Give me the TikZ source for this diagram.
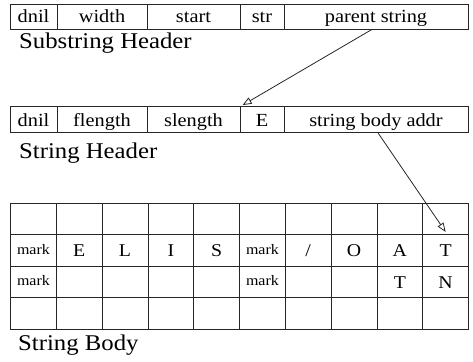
\documentclass[tikz,border=0pt]{standalone}
\usepackage{fontspec}
\setmainfont[FakeStretch=1.1]{Liberation Serif}
\usetikzlibrary{arrows.meta}
\begin{document}
\begin{tikzpicture}[x=1pt,y=-1pt,
  cell/.style={draw=black!85, line width=0.8pt, inner sep=0pt, text height=15pt, text depth=2pt, font=\fontsize{18.5}{18.5}\selectfont},
  gcell/.style={cell, minimum width=45.8pt, minimum height=31.5pt},
  mk/.style={inner sep=0pt, text height=11pt, text depth=3pt, font=\fontsize{14.5}{14.5}\selectfont},
  lt/.style={inner sep=0pt, text height=12.5pt, text depth=0pt, font=\fontsize{18}{18}\selectfont},
  lbl/.style={anchor=west, inner sep=0pt, font=\fontsize{22.5}{22.5}\selectfont},
  ptr/.style={draw=black!85, line width=0.8pt, -{Triangle[open, length=9pt, width=7pt]}}]
\useasboundingbox (0,0) rectangle (473,361);
% Substring header
\node[cell, minimum width=47pt, minimum height=25pt] (s1) at (33.5,16.5) {dnil};
\node[cell, minimum width=90pt, minimum height=25pt] (s2) at (102,16.5) {width};
\node[cell, minimum width=93pt, minimum height=25pt] (s3) at (193.5,16.5) {start};
\node[cell, minimum width=44pt, minimum height=25pt] (s4) at (262,16.5) {str};
\node[cell, minimum width=184pt, minimum height=25pt] (s5) at (376,16.5) {parent string};
\node[lbl] (l1) at (19,43) {Substring Header};
% String header
\node[cell, minimum width=47pt, minimum height=26pt] (h1) at (33.5,119.5) {dnil};
\node[cell, minimum width=90pt, minimum height=26pt] (h2) at (102,119.5) {flength};
\node[cell, minimum width=93pt, minimum height=26pt] (h3) at (193.5,119.5) {slength};
\node[cell, minimum width=44pt, minimum height=26pt] (h4) at (262,119.5) {E};
\node[cell, minimum width=184pt, minimum height=26pt] (h5) at (376,119.5) {string body addr};
\node[lbl] (l2) at (19,153) {String Header};
% String body grid
\foreach \c [count=\i] in {33.4,79.2,125,170.8,216.6,262.4,308.2,354,399.8,445.6} {
  \foreach \r [count=\j] in {218.75,250.25,281.75,313.25} {
    \node[gcell] (g\j-\i) at (\c,\r) {};
  }
}
\node[mk] (m1) at (g2-1) {mark};
\node[lt] (c2) at (g2-2) {E};
\node[lt] (c3) at (g2-3) {L};
\node[lt] (c4) at (g2-4) {I};
\node[lt] (c5) at (g2-5) {S};
\node[mk] (m2) at (g2-6) {mark};
\node[lt] (c7) at (g2-7) {/};
\node[lt] (c8) at (g2-8) {O};
\node[lt] (c9) at (g2-9) {A};
\node[lt] (c10) at (g2-10) {T};
\node[mk] (m3) at (g3-1) {mark};
\node[mk] (m4) at (g3-6) {mark};
\node[lt] (d9) at (g3-9) {T};
\node[lt] (d10) at (g3-10) {N};
\node[lbl] (l3) at (18,345) {String Body};
% pointers
\draw[ptr] ([xshift=-4pt]s5.south) -- ([xshift=3pt,yshift=1pt]h4.north west);
\draw[ptr] ([xshift=2pt]h5.south) -- ([yshift=3pt]g1-10.south);
\end{tikzpicture}
\end{document}
